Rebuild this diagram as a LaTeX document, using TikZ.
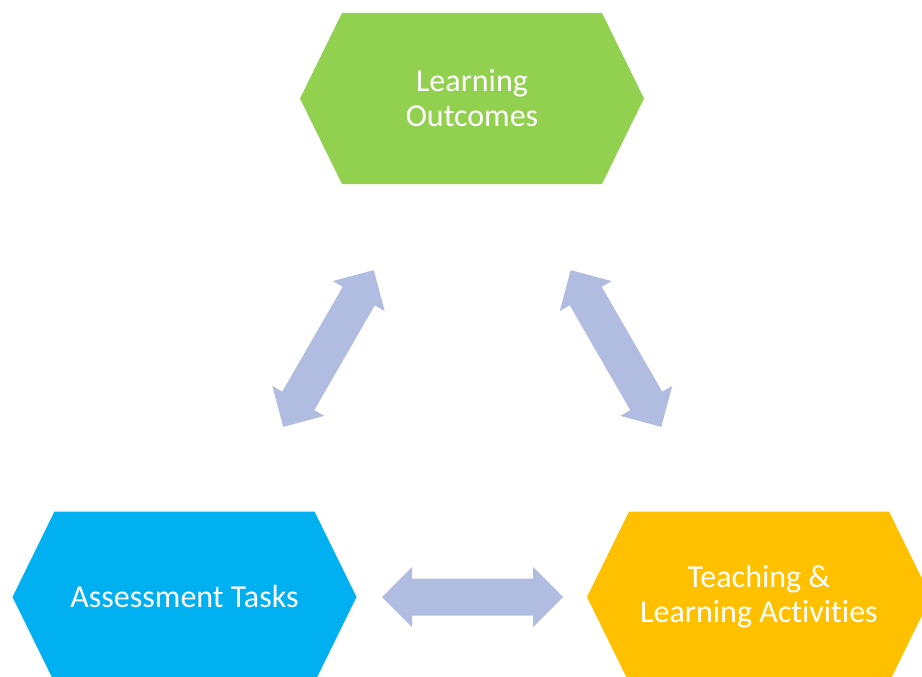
\documentclass[tikz,border=0pt]{standalone}
\usepackage{fontspec}
\setmainfont{Carlito}[Ligatures={NoCommon}]
\usetikzlibrary{calc}
\definecolor{lgreen}{HTML}{92D050}
\definecolor{lblue}{HTML}{00B0F0}
\definecolor{lyellow}{HTML}{FFC000}
\definecolor{arrowc}{HTML}{B0BDE0}
\tikzset{
  hexbox/.style={minimum width=344pt, minimum height=171pt, inner sep=0pt,
    align=center, text=white, font=\fontsize{32}{35}\selectfont,
    path picture={\fill[#1] (path picture bounding box.west)
      -- ([xshift=42pt]path picture bounding box.north west)
      -- ([xshift=-42pt]path picture bounding box.north east)
      -- (path picture bounding box.east)
      -- ([xshift=-42pt]path picture bounding box.south east)
      -- ([xshift=42pt]path picture bounding box.south west) -- cycle;}},
  blockarrow/.style={fill=arrowc}
}
\newcommand{\dblarrow}[2]{%
  \begin{scope}[shift={#1}, rotate=#2]
    \fill[blockarrow] (-90.5,0) -- (-60.5,30) -- (-60.5,18.5) -- (60.5,18.5)
      -- (60.5,30) -- (90.5,0) -- (60.5,-30) -- (60.5,-18.5)
      -- (-60.5,-18.5) -- (-60.5,-30) -- cycle;
  \end{scope}}
\begin{document}
\begin{tikzpicture}[x=1pt, y=-1pt]
  \useasboundingbox (0,0) rectangle (922,677);
  \clip (0,0) rectangle (922,677);
  \node[hexbox=lgreen] (lo) at (472,98.5) {Learning\\Outcomes};
  \node[hexbox=lblue] (at) at (184.5,597) {Assessment Tasks};
  \node[hexbox=lyellow] (tla) at (759,597) {Teaching \&\\Learning Activities};
  \dblarrow{(328.5,348.5)}{60}
  \dblarrow{(616,348.5)}{-60}
  \dblarrow{(472.5,597)}{0}
\end{tikzpicture}
\end{document}
